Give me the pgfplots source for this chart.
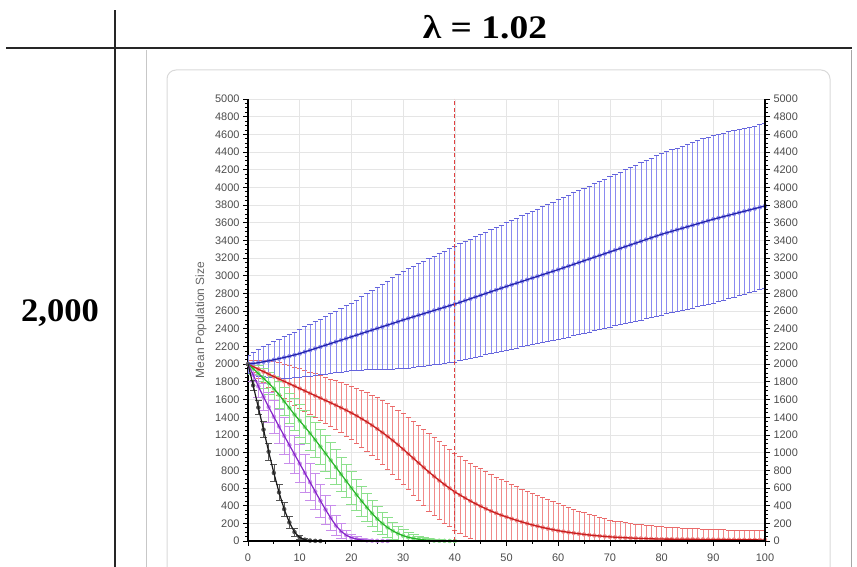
\documentclass[border=0pt]{standalone}
\usepackage{fontspec}
\setmainfont{Liberation Serif}
\newfontfamily\arialfont{Liberation Sans}
\usepackage{pgfplots}
\usepackage{pgfplotstable}
\pgfplotsset{compat=1.18}

\definecolor{bluebar}{HTML}{8A8AF0}
\definecolor{bluecap}{HTML}{6464DC}
\definecolor{blueline}{HTML}{2020A8}
\definecolor{redbar}{HTML}{F08A8A}
\definecolor{redcap}{HTML}{EA6A6A}
\definecolor{redline}{HTML}{C81E1E}
\definecolor{greenbar}{HTML}{8CE08C}
\definecolor{greenline}{HTML}{26B426}
\definecolor{purplebar}{HTML}{C88CEB}
\definecolor{purpleline}{HTML}{8424C8}
\definecolor{blackbar}{HTML}{555555}
\definecolor{blackline}{HTML}{1A1A1A}
\definecolor{dashred}{HTML}{E04040}

% columns: time step, mean population size, standard deviation
\pgfplotstableread{
x y e
0 2000 100
1 2008 130
2 2017 150
3 2027 170
4 2038 190
5 2050 205
6 2063 220
7 2076 235
8 2090 248
9 2105 260
10 2120 272
11 2140 283
12 2158 294
13 2177 305
14 2196 316
15 2215 327
16 2234 338
17 2253 349
18 2272 360
19 2291 370
20 2310 380
21 2329 397
22 2348 414
23 2367 431
24 2386 448
25 2405 465
26 2424 482
27 2443 499
28 2462 516
29 2481 533
30 2500 550
31 2518 560
32 2536 571
33 2554 581
34 2572 592
35 2590 602
36 2608 613
37 2626 623
38 2644 634
39 2662 644
40 2680 655
41 2700 661
42 2720 668
43 2740 674
44 2760 681
45 2780 687
46 2800 694
47 2820 700
48 2840 707
49 2860 713
50 2880 720
51 2899 727
52 2918 734
53 2937 741
54 2956 748
55 2975 755
56 2994 762
57 3013 769
58 3032 776
59 3051 783
60 3070 790
61 3090 796
62 3110 802
63 3130 808
64 3150 814
65 3170 820
66 3190 826
67 3210 832
68 3230 838
69 3250 844
70 3270 850
71 3290 856
72 3310 863
73 3330 869
74 3350 876
75 3370 882
76 3390 889
77 3410 895
78 3430 902
79 3450 908
80 3470 915
81 3487 918
82 3504 922
83 3521 925
84 3538 929
85 3555 932
86 3572 936
87 3589 939
88 3606 943
89 3623 946
90 3640 950
91 3655 948
92 3670 946
93 3685 944
94 3700 942
95 3715 940
96 3730 938
97 3745 936
98 3760 934
99 3775 932
100 3790 930
}\bluetab

\pgfplotstableread{
x y e
0 2000 40
1 1972 70
2 1944 100
3 1916 125
4 1888 150
5 1860 170
6 1833 182
7 1806 194
8 1779 205
9 1752 215
10 1725 224
11 1698 232
12 1671 240
13 1644 248
14 1617 256
15 1590 263
16 1563 270
17 1536 277
18 1508 285
19 1479 293
20 1449 302
21 1417 311
22 1383 320
23 1347 330
24 1309 340
25 1269 350
26 1227 360
27 1183 370
28 1137 380
29 1089 390
30 1039 400
31 987 408
32 935 416
33 883 424
34 831 432
35 780 440
36 731 439
37 684 438
38 639 437
39 596 436
40 556 435
41 520 433
42 486 431
43 453 429
44 422 427
45 393 425
46 365 420
47 339 415
48 315 410
49 292 405
50 272 400
51 252 391
52 233 382
53 215 373
54 198 364
55 182 355
56 167 345
57 153 335
58 140 325
59 128 315
60 117 305
61 107 293
62 98 281
63 90 269
64 82 257
65 75 245
66 68 234
67 62 223
68 57 212
69 52 201
70 47 190
71 43 184
72 40 178
73 37 172
74 34 166
75 31 160
76 29 156
77 27 152
78 25 148
79 23 144
80 22 140
81 21 137
82 21 134
83 20 131
84 20 128
85 19 125
86 19 122
87 18 120
88 18 117
89 17 115
90 17 112
91 16 111
92 16 110
93 15 110
94 15 109
95 14 108
96 14 107
97 13 107
98 13 106
99 12 106
100 12 105
}\redtab

\pgfplotstableread{
x y e
0 2000 20
1 1950 60
2 1895 90
3 1840 110
4 1785 125
5 1725 140
6 1655 150
7 1580 160
8 1505 170
9 1430 178
10 1360 185
11 1290 190
12 1220 195
13 1145 198
14 1068 200
15 990 200
16 912 200
17 835 198
18 756 195
19 678 190
20 600 185
21 523 178
22 450 170
23 380 160
24 312 150
25 250 138
26 198 125
27 152 110
28 115 95
29 85 80
30 60 66
31 42 54
32 30 43
33 20 34
34 13 26
35 8 20
36 5 14
37 3 10
38 2 7
39 1 4
40 0 2
}\greentab

\pgfplotstableread{
x y e
0 2000 20
1 1880 80
2 1750 120
3 1630 150
4 1515 170
5 1405 185
6 1295 195
7 1190 205
8 1085 210
9 980 215
10 875 215
11 770 215
12 665 210
13 560 200
14 455 185
15 355 165
16 260 140
17 175 112
18 110 85
19 65 60
20 38 40
21 22 26
22 12 16
23 7 10
24 4 6
25 2 3
26 1 2
27 0 0
}\purpletab

\pgfplotstableread{
x y e
0 2000 10
1 1760 60
2 1510 80
3 1260 90
4 1010 95
5 770 95
6 550 90
7 360 80
8 210 65
9 100 45
10 40 25
11 15 12
12 5 5
13 2 2
14 0 0
}\blacktab

\pgfplotsset{
  popaxis/.style={
    at={(248bp,26bp)}, anchor=south west,
    width=517bp, height=442bp, scale only axis,
    xmin=0, xmax=100, ymin=0, ymax=5000,
    axis line style={-, line width=1.4bp, black},
    tick style={black, line width=0.8bp},
    tick align=outside,
    major tick length=5bp, minor tick length=3bp,
    ytick={0,200,...,5000}, minor y tick num=3,
    ticklabel style={font=\arialfont\fontsize{11}{13}\selectfont, text=black!70},
    /pgf/number format/assume math mode=true,
    /pgf/number format/1000 sep={},
  },
  sdbars/.style n args={3}{
    #1, only marks, mark=none, forget plot,
    error bars/.cd, y dir=both, y explicit,
    error bar style={draw=#1, line width=0.7bp},
    error mark options={draw=#2, rotate=90, mark size=#3, line width=0.8bp},
  },
}

\begin{document}
\begin{tikzpicture}[x=1bp, y=1bp]
\useasboundingbox (0,0) rectangle (857,567);
% frame of the embedded chart panel
\draw[black!22, line width=0.8bp] (146.5,0) -- (146.5,517);
\draw[black!35, line width=0.8bp] (851.5,0) -- (851.5,517);
\draw[black!15, line width=1bp, rounded corners=9bp] (167,-20) -- (167,497) -- (830,497) -- (830,-20);
% table rules
\draw[black!85, line width=1.8bp] (6,519) -- (852,519);
\draw[black!85, line width=1.8bp] (115,0) -- (115,557);
\node[anchor=base, font=\bfseries\fontsize{33}{36}\selectfont] at (485,528) {\scalebox{1.14}[1]{λ = 1.02}};
\node[anchor=base, font=\bfseries\fontsize{33}{36}\selectfont] at (60,245) {\scalebox{1.05}[1]{2,000}};

% grid, left scale and the standard-deviation bars
\begin{axis}[popaxis,
  axis x line*=bottom, axis y line*=left,
  xtick={0,10,...,100}, minor x tick num=1,
  xticklabel style={yshift=-4bp},
  grid=major, major grid style={black!10, line width=0.6bp},
  ylabel={Mean Population Size},
  ylabel style={at={(axis description cs:-0.091,0.5)}, anchor=center,
    font=\arialfont\fontsize{12}{14}\selectfont, text=black!60},
]
  \addplot[sdbars={redbar}{redcap}{2.6bp}] table[x=x, y=y, y error=e] \redtab;
  \addplot[sdbars={bluebar}{bluecap}{2.6bp}] table[x=x, y=y, y error=e] \bluetab;
  \addplot[sdbars={greenbar}{greenbar}{5.5bp}] table[x=x, y=y, y error=e] \greentab;
  \addplot[sdbars={purplebar}{purplebar}{5bp}] table[x=x, y=y, y error=e] \purpletab;
  \addplot[sdbars={blackbar}{blackbar}{3.5bp}] table[x=x, y=y, y error=e] \blacktab;
\end{axis}

% mean trajectories, the time-40 marker, right scale and baseline on top
\begin{axis}[popaxis,
  axis on top,
  axis x line*=bottom, axis y line*=right,
  xtick=\empty,
]
  \addplot[redline, line width=1.3bp] table[x=x, y=y] \redtab;
  \addplot[blueline, line width=1.2bp] table[x=x, y=y] \bluetab;
  \addplot[greenline, line width=1.2bp] table[x=x, y=y] \greentab;
  \addplot[purpleline, line width=1.2bp] table[x=x, y=y] \purpletab;
  \addplot[blackline, line width=1.2bp] table[x=x, y=y] \blacktab;
  \addplot[dashred, line width=1.2bp, dash pattern=on 4bp off 2.5bp] coordinates {(40,0) (40,5000)};
\end{axis}
\end{tikzpicture}
\end{document}
